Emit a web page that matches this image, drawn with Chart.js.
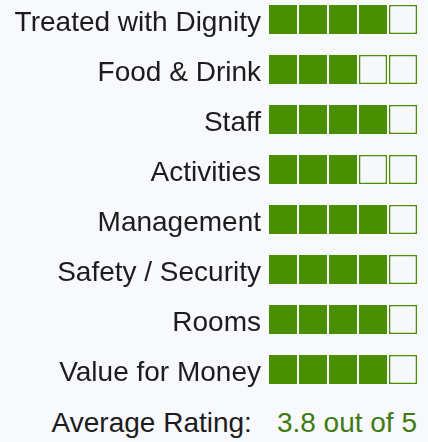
<!DOCTYPE html>
<html lang="en">
<head>
  <meta charset="UTF-8">
  <title>Ratings</title>
  <script src="https://cdn.jsdelivr.net/npm/chart.js"></script>
  <style>
    body {
      margin: 0;
      background: #f8f9fd;
      font-family: 'Liberation Sans', Arial, sans-serif;
      width: 428px;
      height: 442px;
      overflow: hidden;
      position: relative;
    }
    #ratingChart {
      position: absolute;
      left: 0;
      top: 0;
    }
    #average {
      position: absolute;
      right: 11px;
      top: 407px;
      font-size: 28px;
      line-height: 32px;
      color: #1c1c1c;
      white-space: nowrap;
    }
    #average .value {
      color: #3f7a12;
      margin-left: 25px;
    }
  </style>
</head>
<body>
  <canvas id="ratingChart" width="428" height="400"></canvas>
  <div id="average"><span>Average Rating:</span><span class="value"></span></div>

  <script>
    const categories = [
      'Treated with Dignity',
      'Food & Drink',
      'Staff',
      'Activities',
      'Management',
      'Safety / Security',
      'Rooms',
      'Value for Money'
    ];
    const ratings = [4, 3, 4, 3, 4, 4, 4, 4];
    const maxRating = 5;
    const averageRating = 3.8;

    const green = '#4a8f02';
    const emptyFill = '#f6f8fc';
    const gap = 1 / 30; // space between boxes, in rating units

    document.querySelector('#average .value').textContent =
      averageRating + ' out of ' + maxRating;

    // one dataset per box position, each box a floating bar
    const datasets = [];
    for (let i = 0; i < maxRating; i++) {
      datasets.push({
        data: categories.map(() => [i + gap, i + 1 - gap]),
        backgroundColor: ratings.map(r => i < r ? green : emptyFill),
        borderColor: green,
        borderWidth: ratings.map(r => i < r ? 0 : 1.5),
        borderSkipped: false,
        grouped: false,
        categoryPercentage: 1,
        barPercentage: 0.58,
        clip: false
      });
    }

    new Chart(document.getElementById('ratingChart'), {
      type: 'bar',
      data: { labels: categories, datasets: datasets },
      options: {
        indexAxis: 'y',
        responsive: false,
        animation: false,
        layout: { padding: { left: 0, right: 10, top: 19.5, bottom: 30.5 } },
        plugins: {
          legend: { display: false },
          tooltip: { enabled: false }
        },
        scales: {
          x: {
            display: false,
            min: 0,
            max: maxRating
          },
          y: {
            offset: false,
            grid: { display: false, drawTicks: false },
            border: { display: false },
            afterFit: scale => {
              scale.width = 268;
              // labels may overflow the rows, don't let them push the chart area
              scale.paddingTop = 0;
              scale.paddingBottom = 0;
            },
            ticks: {
              autoSkip: false,
              padding: 7,
              labelOffset: 4,
              color: '#1c1c1c',
              font: { family: "'Liberation Sans', Arial, sans-serif", size: 28 }
            }
          }
        }
      }
    });
  </script>
</body>
</html>
